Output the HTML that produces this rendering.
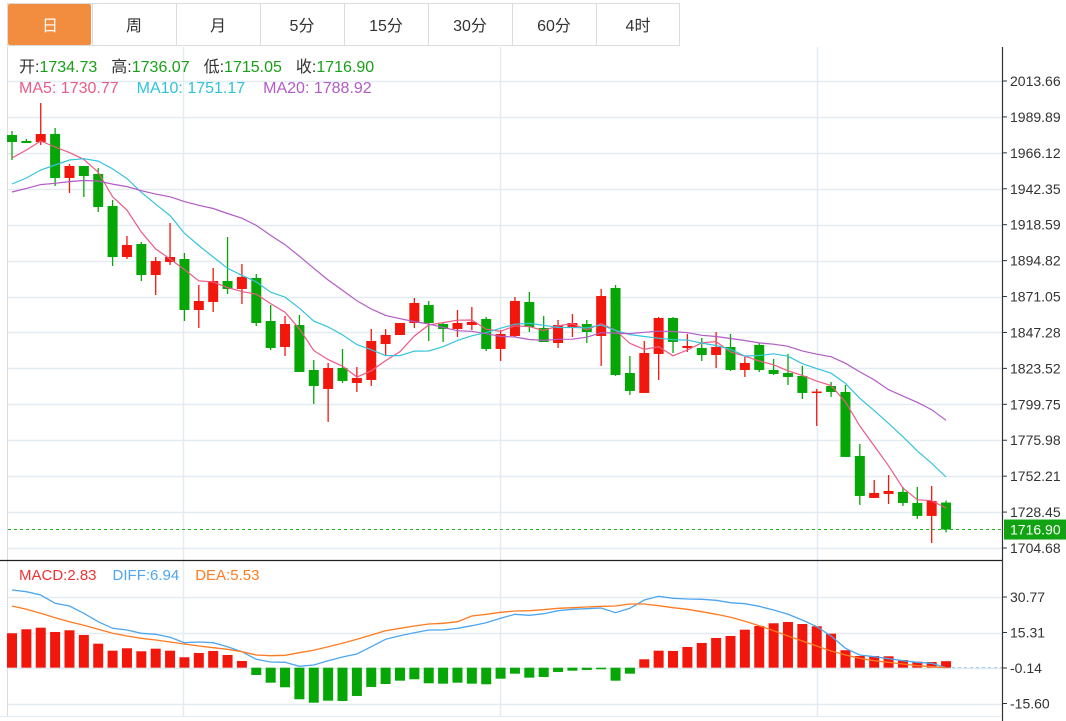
<!DOCTYPE html>
<html><head><meta charset="utf-8">
<style>
html,body{margin:0;padding:0;background:#fff;}
body{width:1066px;height:721px;overflow:hidden;font-family:"Liberation Sans","Noto Sans CJK SC",sans-serif;}
svg{display:block;}
</style></head>
<body>
<svg id="chart" width="1066" height="721" viewBox="0 0 1066 721" xmlns="http://www.w3.org/2000/svg">
<g id="tabs"></g>
<g id="grid"></g>
<g id="macdMarks"></g>
<g id="priceMarks"></g>
<g id="axes"></g>
<g id="legend" font-family="Liberation Sans, Noto Sans CJK SC, sans-serif" font-size="16">
  <text x="19" y="72"><tspan fill="#333">开:</tspan><tspan fill="#18a018">1734.73</tspan><tspan fill="#333" dx="14">高:</tspan><tspan fill="#18a018">1736.07</tspan><tspan fill="#333" dx="14">低:</tspan><tspan fill="#18a018">1715.05</tspan><tspan fill="#333" dx="14">收:</tspan><tspan fill="#18a018">1716.90</tspan></text>
  <text x="19" y="93"><tspan fill="#ec5a86">MA5: 1730.77</tspan><tspan fill="#2fc3da" dx="18">MA10: 1751.17</tspan><tspan fill="#b35bc6" dx="18">MA20: 1788.92</tspan></text>
  <text x="19" y="580" font-size="15"><tspan fill="#ee3333">MACD:2.83</tspan><tspan fill="#4ea6ee" dx="16">DIFF:6.94</tspan><tspan fill="#ff7b22" dx="16">DEA:5.53</tspan></text>
</g>
</svg>
<script>
// ---- data ----
const tabLabels = ["日","周","月","5分","15分","30分","60分","4时"];
const priceTicks = [2013.66,1989.89,1966.12,1942.35,1918.59,1894.82,1871.05,1847.28,1823.52,1799.75,1775.98,1752.21,1728.45,1704.68];
const macdTicks = [30.77,15.31,-0.14,-15.60];
const priorCloses = [1925.0,1928.3,1931.6,1934.9,1936.2,1937.6,1938.2,1938.2,1938.9,1940.2,1932.9,1925.7,1916.4,1924.3,1942.2,1946.2,1948.8,1969.3,1975.9];
const opens = [1977.93,1973.96,1973.30,1978.59,1949.49,1957.43,1952.13,1930.96,1897.21,1905.81,1885.31,1893.91,1895.89,1862.15,1867.45,1881.34,1876.05,1883.32,1854.88,1837.68,1852.23,1822.47,1809.91,1823.79,1813.87,1815.86,1839.66,1845.62,1853.55,1865.46,1852.89,1849.59,1852.23,1856.20,1836.36,1844.96,1867.45,1850.25,1840.32,1850.91,1852.89,1844.96,1876.71,1820.48,1807.26,1833.05,1856.86,1837.02,1837.02,1832.39,1837.68,1822.47,1839.00,1822.47,1820.48,1818.50,1807.92,1811.89,1807.92,1765.58,1737.79,1740.44,1741.76,1734.49,1725.89,1734.73];
const highs = [1980.57,1975.29,1999.10,1982.56,1958.75,1957.43,1956.10,1934.93,1911.11,1907.14,1897.21,1919.71,1899.86,1878.69,1889.94,1910.45,1892.58,1885.97,1865.46,1858.18,1858.85,1829.08,1827.10,1836.36,1824.45,1849.59,1849.59,1853.55,1870.09,1868.11,1854.22,1862.15,1864.14,1857.52,1848.92,1870.76,1874.06,1858.18,1855.54,1859.51,1855.54,1876.05,1878.69,1831.73,1841.65,1857.52,1857.52,1846.28,1843.63,1847.60,1846.28,1831.07,1840.32,1829.74,1833.05,1825.11,1809.91,1814.53,1812.55,1773.52,1749.70,1753.01,1745.07,1745.07,1745.73,1736.07];
const lows = [1961.39,1972.64,1971.32,1944.19,1939.56,1936.92,1926.99,1891.26,1895.89,1881.34,1872.08,1891.92,1854.88,1850.25,1860.83,1872.74,1866.12,1851.57,1835.69,1831.73,1821.15,1799.98,1788.08,1813.87,1807.92,1811.89,1832.39,1845.62,1850.25,1841.65,1840.99,1844.29,1848.92,1835.03,1828.42,1844.29,1847.60,1840.99,1837.02,1844.29,1840.32,1825.11,1818.50,1805.94,1807.26,1815.86,1833.71,1834.37,1828.42,1823.79,1821.81,1817.84,1821.15,1819.16,1812.55,1803.29,1785.43,1804.61,1764.92,1733.17,1737.79,1733.83,1732.50,1723.90,1708.02,1715.05];
const closes = [1973.30,1972.64,1978.59,1949.49,1957.43,1950.81,1930.30,1897.21,1905.15,1885.31,1894.57,1897.21,1862.15,1868.11,1881.34,1876.05,1883.98,1853.55,1837.02,1852.89,1821.15,1811.89,1823.79,1815.20,1817.18,1841.65,1845.62,1853.55,1866.79,1853.55,1849.59,1853.55,1854.22,1836.36,1846.28,1868.11,1850.91,1840.99,1852.23,1853.55,1847.60,1871.42,1819.16,1808.58,1833.71,1856.86,1840.99,1838.34,1832.39,1837.68,1822.47,1827.10,1822.47,1819.82,1817.84,1807.26,1808.20,1807.92,1764.92,1739.12,1741.10,1742.42,1734.49,1725.89,1735.81,1716.90];
const macdBars = [14.98,16.72,17.41,15.54,16.28,14.24,10.45,7.40,8.45,7.14,8.27,7.40,4.53,6.40,7.27,5.53,2.92,-3.18,-6.53,-8.53,-13.76,-15.24,-14.37,-14.50,-12.32,-8.40,-7.10,-5.66,-5.05,-6.79,-6.97,-6.53,-6.97,-7.23,-4.79,-2.61,-4.35,-4.05,-1.87,-1.31,-1.00,-0.70,-5.66,-2.61,3.66,7.40,7.27,9.01,10.75,12.93,13.80,16.54,18.15,19.33,19.90,19.02,18.02,14.80,7.62,5.09,5.09,4.96,3.35,2.61,2.48,2.83];
const diffVals = [33.83,33.09,31.65,28.04,26.86,23.68,20.03,17.15,16.41,14.98,14.54,13.23,10.88,11.19,10.88,9.14,6.97,3.66,2.48,2.35,0.61,1.18,3.05,4.66,5.96,9.14,12.36,13.93,15.24,16.41,16.41,17.15,18.28,19.59,21.51,23.25,22.81,23.51,24.81,25.42,25.69,25.99,23.94,25.86,29.47,31.08,30.21,29.91,29.78,29.34,28.30,27.86,26.73,25.12,23.25,20.77,17.85,13.80,8.45,5.53,4.79,3.92,3.05,2.35,1.92,0];
const deaVals = [26.86,25.42,23.68,21.77,20.03,18.46,16.72,14.98,13.80,12.80,12.06,11.19,10.32,9.45,8.71,8.01,6.97,5.53,5.22,5.40,6.53,7.57,9.14,10.62,12.36,14.24,16.11,17.15,18.15,19.02,19.33,20.03,22.51,23.25,24.12,24.68,24.81,25.25,25.86,26.12,26.43,26.73,26.86,27.73,27.73,26.99,26.12,25.42,24.38,23.25,21.94,20.20,18.28,16.11,13.80,11.62,9.45,7.27,5.53,4.09,3.05,2.35,1.61,0.87,0.44,0];
const lastPrice = 1716.90;

// ---- scales ----
const NS = "http://www.w3.org/2000/svg";
const X0 = 12, DX = 14.37;
function xAt(i){ return X0 + i*DX; }
function yPrice(p){ return 81 + (2013.66 - p) * (548-81)/(2013.66-1704.68); }
function yMacd(v){ return 668 - (v + 0.14) * (668-597)/(30.77+0.14); }
function mk(tag, attrs, parent){ const e=document.createElementNS(NS,tag); for(const k in attrs) e.setAttribute(k, attrs[k]); parent.appendChild(e); return e; }

const RED="#f2170c", GREEN="#06a606";

// ---- tabs ----
const tabs = document.getElementById('tabs');
mk('rect',{x:7.5,y:3.5,width:672,height:42,fill:'#fff',stroke:'#dcdcdc'},tabs);
tabLabels.forEach((t,i)=>{
  const g = mk('g',{},tabs);
  
  
  const x = 8 + i*84;
  if(i===0){ mk('rect',{x:8,y:4,width:83,height:41,rx:2,fill:'#f28d40'},g); }
  else { mk('line',{x1:x+0.5,y1:4,x2:x+0.5,y2:45,stroke:'#dcdcdc'},g); }
  const tx = mk('text',{x:x+42,y:31,'text-anchor':'middle','font-size':'16',fill:i===0?'#fff':'#333','font-family':'Liberation Sans, Noto Sans CJK SC, sans-serif'},g);
  tx.textContent = t;
});

// ---- grid ----
const grid = document.getElementById('grid');
priceTicks.forEach(p=>{ const y=Math.round(yPrice(p))+0.5; mk('line',{x1:8,y1:y,x2:1002,y2:y,stroke:'#e3ebf3','stroke-width':1.5},grid); });
macdTicks.forEach(v=>{ const y=Math.round(yMacd(v))+0.5; mk('line',{x1:8,y1:y,x2:1002,y2:y,stroke:'#e3ebf3','stroke-width':1.5},grid); });
[183.5,500.5,817.5].forEach(x=>{ mk('line',{x1:x,y1:47,x2:x,y2:716,stroke:'#e3ebf3','stroke-width':1.5},grid); });
mk('line',{x1:7.5,y1:47,x2:7.5,y2:716,stroke:'#dcdcdc'},grid);

// ---- candles ----
const pm = document.getElementById('priceMarks');
for(let i=0;i<closes.length;i++){
  const up = closes[i] >= opens[i];
  const col = up ? RED : GREEN;
  const x = xAt(i);
  const g = mk('g',{},pm);
  
  
  mk('line',{x1:x,y1:yPrice(highs[i]),x2:x,y2:yPrice(lows[i]),stroke:col,'stroke-width':1.3},g);
  const yt = yPrice(Math.max(opens[i],closes[i])), yb = yPrice(Math.min(opens[i],closes[i]));
  mk('rect',{x:x-5,y:yt,width:10,height:Math.max(1.5,yb-yt),fill:col},g);
}
// ---- moving averages ----
const allCloses = priorCloses.concat(closes);
function maSeries(n){ const out=[]; for(let i=0;i<closes.length;i++){ const k=i+priorCloses.length; let s=0,c=0; for(let j=k-n+1;j<=k;j++){ if(j>=0){s+=allCloses[j];c++;} } out.push(s/c);} return out; }
[[5,'#ec5a86','ma5-line'],[10,'#35c4dc','ma10-line'],[20,'#b35bc6','ma20-line']].forEach(([n,col,name])=>{
  const s = maSeries(n);
  const d = s.map((v,i)=>(i?'L':'M')+xAt(i).toFixed(1)+' '+yPrice(v).toFixed(1)).join(' ');
  const p = mk('path',{d:d,fill:'none',stroke:col,'stroke-width':1.2},pm);
  
  
});
// last price line
const ly = yPrice(lastPrice);
const lpl = mk('line',{x1:8,y1:ly,x2:1002,y2:ly,stroke:'#1fb31f','stroke-dasharray':'3,3','stroke-width':1},pm);



// ---- MACD ----
const mm = document.getElementById('macdMarks');
const y0 = yMacd(0);
mk('line',{x1:940,y1:y0,x2:1002,y2:y0,stroke:'#9cc9ee','stroke-dasharray':'3,3'},mm);
macdBars.forEach((v,i)=>{
  const y = yMacd(v);
  const r = mk('rect',{x:xAt(i)-5,y:Math.min(y,y0),width:10,height:Math.max(1,Math.abs(y-y0)),fill:v>=0?RED:GREEN},mm);
  
  
});
[[diffVals,'#4ea6ee','diff-line'],[deaVals,'#ff7b22','dea-line']].forEach(([s,col,name])=>{
  const d = s.map((v,i)=>(i?'L':'M')+xAt(i).toFixed(1)+' '+yMacd(v).toFixed(1)).join(' ');
  const p = mk('path',{d:d,fill:'none',stroke:col,'stroke-width':1.3},mm);
  
  
});

// ---- axes ----
const ax = document.getElementById('axes');
mk('line',{x1:0,y1:560.5,x2:1002,y2:560.5,stroke:'#222','stroke-width':1.2},ax);
mk('line',{x1:1002.5,y1:47,x2:1002.5,y2:721,stroke:'#333','stroke-width':1.2},ax);
mk('line',{x1:0,y1:716.5,x2:1002,y2:716.5,stroke:'#e3ebf3'},ax);
priceTicks.forEach(p=>{
  const y = yPrice(p);
  mk('line',{x1:1003,y1:y,x2:1007,y2:y,stroke:'#333'},ax);
  const t = mk('text',{x:1010,y:y+5,'font-size':'14',fill:'#333'},ax);
  
  
  t.textContent = p.toFixed(2);
});
macdTicks.forEach(v=>{
  const y = yMacd(v);
  mk('line',{x1:1003,y1:y,x2:1007,y2:y,stroke:'#333'},ax);
  const t = mk('text',{x:1010,y:y+5,'font-size':'14',fill:'#333'},ax);
  
  
  t.textContent = v.toFixed(2);
});
const lb = mk('g',{},ax);


mk('rect',{x:1004,y:ly-10,width:62,height:20,fill:'#12a312'},lb);
const lt = mk('text',{x:1010,y:ly+5,'font-size':'14',fill:'#fff'},lb);
lt.textContent = lastPrice.toFixed(2);
</script>
</body></html>
